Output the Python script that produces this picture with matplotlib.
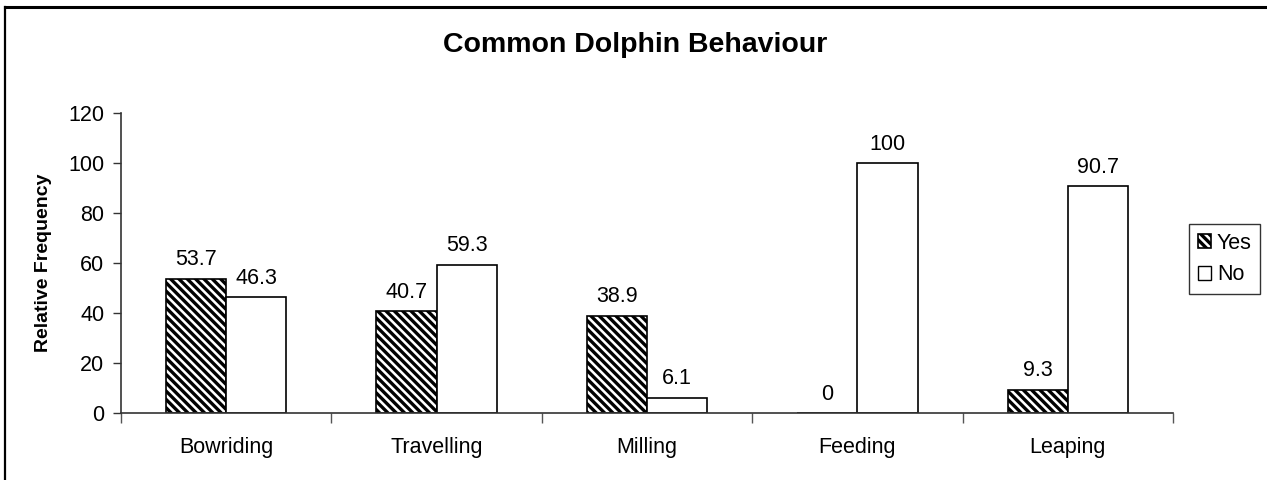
import matplotlib
matplotlib.use("Agg")
import matplotlib.pyplot as plt
from matplotlib.lines import Line2D
from matplotlib.patches import Patch
import numpy as np

plt.rcParams['font.family'] = ['Liberation Sans', 'DejaVu Sans']
plt.rcParams['hatch.linewidth'] = 2.4

categories = ["Bowriding", "Travelling", "Milling", "Feeding", "Leaping"]
yes_vals = [53.7, 40.7, 38.9, 0, 9.3]
no_vals = [46.3, 59.3, 6.1, 100, 90.7]
yes_labels = ["53.7", "40.7", "38.9", "0", "9.3"]
no_labels = ["46.3", "59.3", "6.1", "100", "90.7"]
y_ticks = [0, 20, 40, 60, 80, 100, 120]

W, H = 1267, 480
FS = 15.5
fig = plt.figure(figsize=(W / 100, H / 100), dpi=100)
ax = fig.add_axes([121 / W, 1 - 413 / H, 1052 / W, 300 / H])

x = np.arange(len(categories))
bw = 0.286
ax.bar(x - bw / 2, yes_vals, bw, facecolor='white', edgecolor='black',
       hatch='\\\\\\\\', linewidth=1.2, label='Yes')
ax.bar(x + bw / 2, no_vals, bw, facecolor='white', edgecolor='black',
       linewidth=1.2, label='No')

for xi, v, t in zip(x - bw / 2, yes_vals, yes_labels):
    ax.annotate(t, (xi, v), xytext=(0, 6), textcoords='offset points',
                ha='center', va='bottom', fontsize=FS)
for xi, v, t in zip(x + bw / 2, no_vals, no_labels):
    ax.annotate(t, (xi, v), xytext=(0, 6), textcoords='offset points',
                ha='center', va='bottom', fontsize=FS)

ax.set_xlim(-0.5, len(categories) - 0.5)
ax.set_ylim(0, 120)
ax.set_yticks(y_ticks)
ax.set_yticklabels([str(v) for v in y_ticks], fontsize=FS)
ax.set_xticks(x)
ax.set_xticklabels(categories, fontsize=FS)
ax.tick_params(axis='x', length=0, pad=17)
ax.tick_params(axis='y', length=6, width=1, color='#333333', pad=6)
ax.set_xticks(np.arange(len(categories) + 1) - 0.5, minor=True)
ax.tick_params(axis='x', which='minor', length=7, width=1, color='#555555')
for s in ['top', 'right']:
    ax.spines[s].set_visible(False)
for s in ['left', 'bottom']:
    ax.spines[s].set_color('#333333')
    ax.spines[s].set_linewidth(1.2)

ax.set_ylabel("Relative Frequency", fontsize=14, fontweight='bold')
ax.yaxis.set_label_coords(-(121 - 52) / 1052, 0.5)

fig.text(635 / W, 1 - 45 / H, "Common Dolphin Behaviour", ha='center', va='center',
         fontsize=20.5, fontweight='bold')

handles = [Patch(facecolor='white', edgecolor='black', hatch='\\\\\\\\', linewidth=1.2, label='Yes'),
           Patch(facecolor='white', edgecolor='black', linewidth=1.0, label='No')]
leg = fig.legend(handles=handles, loc='upper left',
                 bbox_to_anchor=(1189 / W, 1 - 224 / H), fontsize=FS,
                 frameon=True, fancybox=False, handlelength=0.6, handleheight=0.6,
                 handletextpad=0.3, borderpad=0.4, labelspacing=0.5, borderaxespad=0)
leg.get_frame().set_edgecolor('black')
leg.get_frame().set_linewidth(1.0)

fig.add_artist(Line2D([5 / W, 1.0], [1 - 7 / H, 1 - 7 / H], color='black', linewidth=2.2,
                      transform=fig.transFigure))
fig.add_artist(Line2D([5 / W, 5 / W], [0, 1 - 7 / H], color='black', linewidth=1.6,
                      transform=fig.transFigure))

fig.savefig("out.png", dpi=100)
